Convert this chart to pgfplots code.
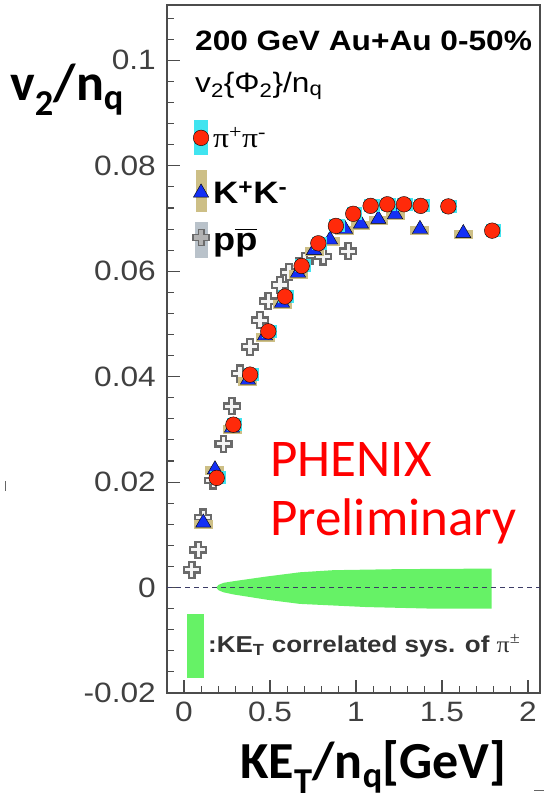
\documentclass[border=0pt]{standalone}
\usepackage{pgfplots}
\pgfplotsset{compat=1.18}
\usepackage{pgfplotstable}
\usepackage{amsmath}
\usepackage{graphicx}
\usepackage{fontspec}
\setmainfont{Liberation Sans}
\newfontfamily\calfont{Carlito}
\newfontfamily\serf{Liberation Serif}

\definecolor{pired}{HTML}{FF2A0A}
\definecolor{picyan}{HTML}{40E4F0}
\definecolor{kblue}{HTML}{1430F5}
\definecolor{ktan}{HTML}{CDBF86}
\definecolor{crossgray}{HTML}{6A6A6A}
\definecolor{pgray}{HTML}{B9C2CA}
\definecolor{bandgreen}{HTML}{66F266}
\definecolor{dashcol}{HTML}{3C3C66}

% horizontally widened text, as in the ROOT canvas
\newcommand\hs[1]{\scalebox{1.13}[1]{#1}}
\newcommand\fs[1]{\fontsize{#1bp}{#1bp}\selectfont}

% open cross marker for p pbar
\pgfdeclareplotmark{ocross}{%
  \pgfpathmoveto{\pgfpoint{-2.8bp}{8bp}}%
  \pgfpathlineto{\pgfpoint{2.8bp}{8bp}}%
  \pgfpathlineto{\pgfpoint{2.8bp}{2.8bp}}%
  \pgfpathlineto{\pgfpoint{8bp}{2.8bp}}%
  \pgfpathlineto{\pgfpoint{8bp}{-2.8bp}}%
  \pgfpathlineto{\pgfpoint{2.8bp}{-2.8bp}}%
  \pgfpathlineto{\pgfpoint{2.8bp}{-8bp}}%
  \pgfpathlineto{\pgfpoint{-2.8bp}{-8bp}}%
  \pgfpathlineto{\pgfpoint{-2.8bp}{-2.8bp}}%
  \pgfpathlineto{\pgfpoint{-8bp}{-2.8bp}}%
  \pgfpathlineto{\pgfpoint{-8bp}{2.8bp}}%
  \pgfpathlineto{\pgfpoint{-2.8bp}{2.8bp}}%
  \pgfpathclose
  \pgfusepathqfillstroke}
% systematic-error boxes behind the points
\pgfdeclareplotmark{pibox}{%
  \pgfpathrectangle{\pgfpoint{-6.5bp}{-6.5bp}}{\pgfpoint{15.5bp}{13bp}}%
  \pgfusepathqfill}
\pgfdeclareplotmark{kbox}{%
  \pgfpathrectangle{\pgfpoint{-9.5bp}{-6bp}}{\pgfpoint{19bp}{9bp}}%
  \pgfusepathqfill}

% KE_T/n_q [GeV]   v2/n_q
\pgfplotstableread{
x y
0.190 0.0208
0.287 0.0309
0.384 0.0404
0.490 0.0486
0.587 0.0552
0.684 0.0610
0.781 0.0653
0.883 0.0686
0.984 0.0709
1.085 0.0724
1.182 0.0727
1.279 0.0727
1.376 0.0724
1.537 0.0723
1.792 0.0677
}\pion
\pgfplotstableread{
x y
0.112 0.0123
0.180 0.0224
0.279 0.0303
0.372 0.0394
0.471 0.0478
0.570 0.0540
0.663 0.0597
0.756 0.0640
0.849 0.0660
0.936 0.0680
1.029 0.0690
1.130 0.0699
1.227 0.0708
1.372 0.0680
1.624 0.0672
}\kaon
\pgfplotstableread{
x y
0.045 0.0034
0.083 0.0072
0.112 0.0133
0.170 0.0203
0.229 0.0273
0.277 0.0344
0.326 0.0406
0.384 0.0457
0.442 0.0507
0.490 0.0543
0.558 0.0574
0.610 0.0598
0.700 0.0620
0.810 0.0628
0.955 0.0638
}\proton

\begin{document}
\begin{tikzpicture}
\useasboundingbox (0,0) rectangle (546bp,-804bp);
\begin{axis}[
  at={(167bp,-693bp)}, anchor=south west,
  scale only axis, width=373bp, height=688bp,
  xmin=-0.099, xmax=2.07, ymin=-0.02, ymax=0.1105,
  axis line style={draw=black!70, line width=1.6bp},
  xtick={0,0.5,1,1.5,2},
  xticklabels={\hs{0},\hs{0.5},\hs{1},\hs{1.5},\hs{2}},
  minor xtick={0.1,0.2,0.3,0.4,0.6,0.7,0.8,0.9,1.1,1.2,1.3,1.4,1.6,1.7,1.8,1.9},
  ytick={-0.02,0,0.02,0.04,0.06,0.08,0.1},
  yticklabels={\hs{-0.02},\hs{0},\hs{0.02},\hs{0.04},\hs{0.06},\hs{0.08},\hs{0.1}},
  minor ytick={-0.016,-0.012,-0.008,-0.004,0.004,0.008,0.012,0.016,0.024,0.028,0.032,0.036,0.044,0.048,0.052,0.056,0.064,0.068,0.072,0.076,0.084,0.088,0.092,0.096,0.104,0.108},
  xtick pos=lower, ytick pos=left, tick align=inside,
  major tick length=13bp, minor tick length=7bp,
  tick style={black!70, line width=1.1bp},
  xticklabel style={font=\fs{28}, text=black!75, inner sep=0pt, yshift=-9bp},
  yticklabel style={font=\fs{28}, text=black!75, inner sep=0pt, xshift=-11bp},
]
% correlated systematic band of pi+pi-
\addplot[fill=bandgreen, draw=none] coordinates {
  (0.190,0.0001) (0.200,0.0005) (0.230,0.0009) (0.287,0.0012) (0.481,0.0021)
  (0.674,0.0029) (0.868,0.0033) (1.256,0.0035) (1.789,0.0036)
  (1.789,-0.0040) (1.449,-0.0040) (1.062,-0.0037) (0.674,-0.0031)
  (0.481,-0.0023) (0.287,-0.0013) (0.230,-0.0009) (0.200,-0.0005) (0.190,-0.0001)};
\addplot[dashcol, line width=1.4bp, dash pattern=on 5bp off 4bp] coordinates {(-0.099,0) (2.07,0)};

% data
\addplot[only marks, mark=ocross, mark options={draw=crossgray, fill=white!92!gray, line width=2.2bp}] table {\proton};
\addplot[only marks, mark=kbox, mark options={fill=ktan, draw=none}] table {\kaon};
\addplot[only marks, mark=triangle*, mark size=8.8bp, mark options={fill=kblue, draw=none}] table {\kaon};
\addplot[only marks, mark=pibox, mark options={fill=picyan, draw=none}] table {\pion};
\addplot[only marks, mark=*, mark size=7.8bp, mark options={fill=pired, draw=none}] table {\pion};

% legend
\addplot[fill=picyan, draw=none] coordinates {(0.058,0.0887) (0.140,0.0887) (0.140,0.0821) (0.058,0.0821)};
\addplot[only marks, mark=*, mark size=7.8bp, mark options={fill=pired, draw=none}] coordinates {(0.099,0.0853)};
\addplot[fill=ktan, draw=none] coordinates {(0.070,0.0792) (0.134,0.0792) (0.134,0.0713) (0.070,0.0713)};
\addplot[only marks, mark=triangle*, mark size=8.8bp, mark options={fill=kblue, draw=none}] coordinates {(0.099,0.0749)};
\addplot[fill=pgray, draw=none] coordinates {(0.064,0.0694) (0.140,0.0694) (0.140,0.0626) (0.064,0.0626)};
\addplot[only marks, mark=ocross, mark options={draw=crossgray, fill=gray!60, line width=1.5bp}] coordinates {(0.099,0.0664)};
\addplot[fill=bandgreen, draw=none] coordinates {(0.016,-0.0051) (0.118,-0.0051) (0.118,-0.0171) (0.016,-0.0171)};
\end{axis}

\begin{scope}[x=1bp, y=-1bp, every node/.style={anchor=base west, inner sep=0pt}]
\node[font=\bfseries\fs{28}] at (195,50) {\hs{200 GeV Au+Au 0-50\%}};
\node[font=\fs{28}] at (195,92) {\hs{v$_{\text{2}}$\{Φ$_{\text{2}}$\}/n$_{\text{q}}$}};
\node[font=\serf\fs{28}] at (213,147) {\hs{π\textsuperscript{+}π\textsuperscript{-}}};
\node[font=\bfseries\fs{31}] at (213,203) {\hs{K\textsuperscript{+}K\textsuperscript{-}}};
\node[font=\bfseries\fs{32}] at (213,250) {\hs{p$\overline{\mbox{p}}$}};
\node[font=\bfseries\fs{23}, text=black!80] at (208,652) {\hs{:KE$_{\text{T}}$ correlated sys. of {\serf\mdseries π\textsuperscript{±}}}};
\node[font=\calfont\fs{53}, text=red] at (270,476) {PHENIX};
\node[font=\calfont\fs{53}, text=red] at (270,535) {Preliminary};
\node[font=\calfont\bfseries\fs{52}] at (10,100) {v$_{\text{2}}$/n$_{\text{q}}$};
\node[font=\calfont\bfseries\fs{52}] at (240,778) {KE$_{\text{T}}$/n$_{\text{q}}$[GeV]};
\draw[black!60, line width=1bp] (5,481) -- (5,491);
\draw[black!60, line width=1bp] (534,790) -- (544,790);
\end{scope}
\end{tikzpicture}
\end{document}
